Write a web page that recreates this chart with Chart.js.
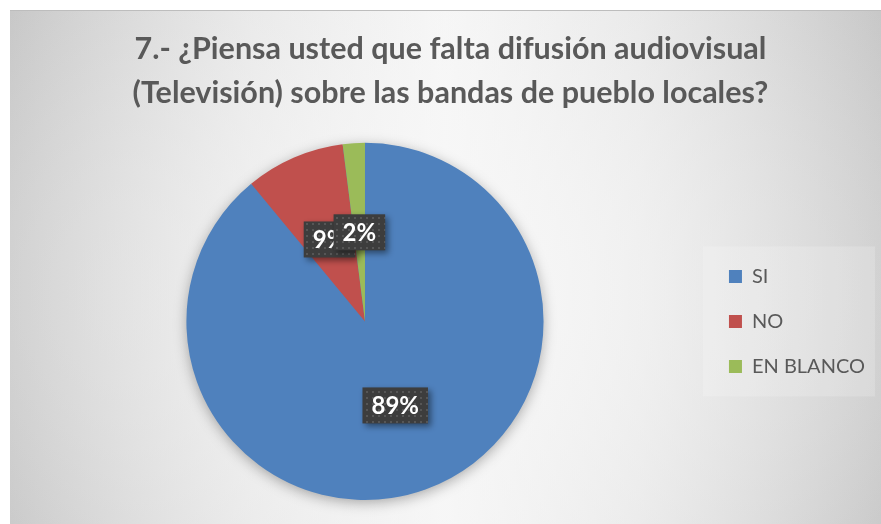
<!DOCTYPE html>
<html lang="es">
  <head>
    <meta charset="UTF-8" />
    <title>Difusión audiovisual</title>
    <style>
      body { margin: 0; background: #fff; }
      .box {
        position: absolute;
        left: 10px;
        top: 10px;
        width: 871px;
        height: 514px;
        border-top: 1px solid #bdbdbd;
        box-sizing: border-box;
        background:
          radial-gradient(ellipse 70% 95% at 50% 55%, rgba(248,248,248,0.9) 0%, rgba(248,248,248,0) 100%),
          linear-gradient(90deg, #c4c4c4 0%, #e4e4e4 28%, #f5f5f5 50%, #e4e4e4 72%, #c4c4c4 100%);
      }
    </style>
  </head>
  <body>
    <div class="box"><canvas id="myChart"></canvas></div>

    <script src="https://cdn.jsdelivr.net/npm/chart.js@4/dist/chart.umd.min.js"></script>
    <script>
      var titleLines = [
        "7.- ¿Piensa usted que falta difusión audiovisual",
        "(Televisión) sobre las bandas de pueblo locales?",
      ];
      var labels = ["SI", "NO", "EN BLANCO"];
      var values = [89, 9, 2];
      var colors = ["#4F81BD", "#C0504D", "#9BBB59"];

      // dotted dark pattern used behind the percentage labels
      var patCanvas = document.createElement("canvas");
      patCanvas.width = 6;
      patCanvas.height = 6;
      var pctx = patCanvas.getContext("2d");
      pctx.fillStyle = "#3d3d3d";
      pctx.fillRect(0, 0, 6, 6);
      pctx.fillStyle = "#565656";
      pctx.fillRect(2, 2, 2, 2);

      // soft shadow under the whole pie
      var pieShadow = {
        id: "pieShadow",
        beforeDatasetsDraw: function (chart) {
          var arc = chart.getDatasetMeta(0).data[0];
          if (!arc) return;
          var ctx = chart.ctx;
          ctx.save();
          ctx.shadowColor = "rgba(0,0,0,0.35)";
          ctx.shadowBlur = 14;
          ctx.shadowOffsetY = 3;
          ctx.fillStyle = colors[0];
          ctx.beginPath();
          ctx.arc(arc.x, arc.y, arc.outerRadius - 1, 0, Math.PI * 2);
          ctx.fill();
          ctx.restore();
        },
      };

      // faint light panel behind the legend
      var legendPanel = {
        id: "legendPanel",
        beforeDraw: function (chart) {
          var lg = chart.legend;
          if (!lg || !lg.legendHitBoxes.length) return;
          var hb = lg.legendHitBoxes;
          var first = hb[0], last = hb[hb.length - 1];
          var ctx = chart.ctx;
          ctx.save();
          ctx.fillStyle = "rgba(255,255,255,0.18)";
          ctx.fillRect(first.left - 26, first.top - 20, chart.width - first.left + 20, last.top + last.height - first.top + 40);
          ctx.restore();
        },
      };

      // percentage labels in dark boxes
      var pctLabels = {
        id: "pctLabels",
        afterDatasetsDraw: function (chart) {
          var ctx = chart.ctx;
          var meta = chart.getDatasetMeta(0);
          var total = values.reduce(function (a, b) { return a + b; }, 0);
          var pattern = ctx.createPattern(patCanvas, "repeat");
          ctx.save();
          ctx.font = "bold 24px Lato, 'Open Sans', sans-serif";
          ctx.textAlign = "center";
          ctx.textBaseline = "middle";
          meta.data.forEach(function (arc, i) {
            var p = arc.tooltipPosition();
            var txt = Math.round((values[i] / total) * 100) + "%";
            var w = ctx.measureText(txt).width + 18;
            var h = 36;
            ctx.save();
            ctx.shadowColor = "rgba(0,0,0,0.45)";
            ctx.shadowBlur = 6;
            ctx.shadowOffsetX = 3;
            ctx.shadowOffsetY = 3;
            ctx.fillStyle = pattern;
            ctx.fillRect(p.x - w / 2, p.y - h / 2, w, h);
            ctx.restore();
            ctx.fillStyle = "#ffffff";
            ctx.fillText(txt, p.x, p.y + 1);
          });
          ctx.restore();
        },
      };

      var ctx = document.getElementById("myChart").getContext("2d");
      var myPieChart = new Chart(ctx, {
        type: "pie",
        data: {
          labels: labels,
          datasets: [
            {
              data: values,
              backgroundColor: colors,
              borderWidth: 0,
            },
          ],
        },
        options: {
          responsive: true,
          maintainAspectRatio: false,
          animation: false,
          layout: { padding: { left: 16, right: 6, bottom: 24 } },
          plugins: {
            title: {
              display: true,
              text: titleLines,
              color: "#595959",
              font: { family: "Lato, 'Open Sans', sans-serif", size: 30.5, weight: "bold", lineHeight: 1.44 },
              padding: { top: 16, bottom: 28 },
            },
            legend: {
              position: "right",
              fullSize: false,
              labels: {
                color: "#595959",
                font: { family: "Lato, 'Open Sans', sans-serif", size: 20 },
                boxWidth: 13,
                boxHeight: 13,
                padding: 25,
              },
            },
            tooltip: { enabled: false },
          },
        },
        plugins: [legendPanel, pieShadow, pctLabels],
      });
    </script>
  </body>
</html>
